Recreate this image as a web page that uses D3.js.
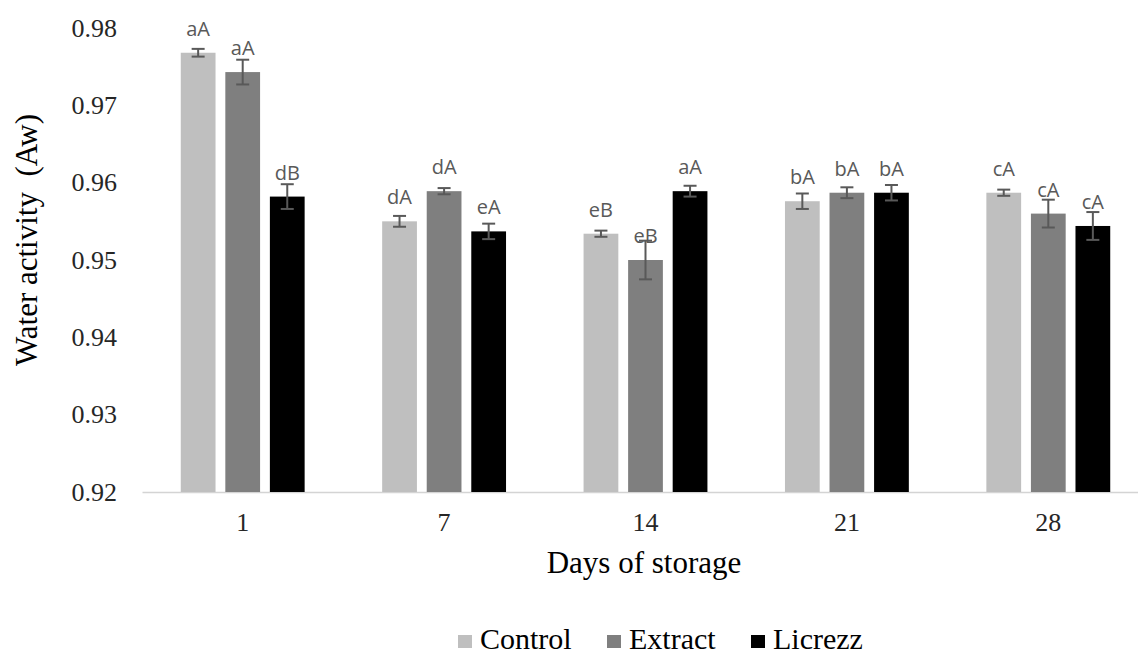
<!DOCTYPE html>
<html>
<head>
<meta charset="utf-8">
<script src="https://cdn.jsdelivr.net/npm/d3@7"></script>
<style>
  body { margin: 0; background: #ffffff; }
  svg { display: block; }
</style>
</head>
<body>
<div id="container"></div>
<script>
/* DATA */
const days = ["1", "7", "14", "21", "28"];
const series = ["Control", "Extract", "Licrezz"];
const yTicks = [0.92, 0.93, 0.94, 0.95, 0.96, 0.97, 0.98];

const control = [0.9768, 0.9550, 0.9534, 0.9576, 0.9587];
const controlErr = [0.0005, 0.0007, 0.0004, 0.0010, 0.0004];
const controlLabels = ["aA", "dA", "eB", "bA", "cA"];

const extract = [0.9743, 0.9589, 0.9500, 0.9587, 0.9560];
const extractErr = [0.0016, 0.0004, 0.0025, 0.0007, 0.0018];
const extractLabels = ["aA", "dA", "eB", "bA", "cA"];

const licrezz = [0.9582, 0.9537, 0.9589, 0.9587, 0.9544];
const licrezzErr = [0.0016, 0.0010, 0.0007, 0.0010, 0.0018];
const licrezzLabels = ["dB", "eA", "aA", "bA", "cA"];

/* CONSTANTS */
const width = 1138;
const height = 655;
const plot = { left: 142, right: 1149, top: 28, bottom: 492 };
const colors = ["#bfbfbf", "#7f7f7f", "#000000"];
const serif = "'Liberation Serif', 'Times New Roman', serif";
const sans = "'Open Sans', 'Noto Sans', sans-serif";

// one row per bar
const rows = [];
const values = [control, extract, licrezz];
const errs = [controlErr, extractErr, licrezzErr];
const labels = [controlLabels, extractLabels, licrezzLabels];
days.forEach((d, i) => {
  series.forEach((s, j) => {
    rows.push({ day: d, series: s, value: values[j][i], err: errs[j][i], label: labels[j][i] });
  });
});

const svg = d3.select("#container")
  .append("svg")
  .attr("width", width)
  .attr("height", height)
  .style("background-color", "#ffffff");

/* SCALES */
const x0 = d3.scaleBand()
  .domain(days)
  .range([plot.left, plot.right])
  .padding(0);

const x1 = d3.scaleBand()
  .domain(series)
  .range([0, x0.bandwidth()])
  .paddingInner(0.22)
  .paddingOuter(0.87);

const y = d3.scaleLinear()
  .domain([0.92, 0.98])
  .range([plot.bottom, plot.top]);

const color = d3.scaleOrdinal()
  .domain(series)
  .range(colors);

/* Y AXIS (labels only) */
const yAxis = svg.append("g")
  .attr("class", "y-axis")
  .attr("transform", `translate(117,0)`)
  .call(d3.axisLeft(y).tickValues(yTicks).tickFormat(d3.format(".2f")).tickSize(0).tickPadding(0));
yAxis.select(".domain").remove();
yAxis.selectAll("text")
  .style("font-family", serif)
  .style("font-size", "26px")
  .attr("fill", "#262626");

/* X AXIS */
const xAxis = svg.append("g")
  .attr("class", "x-axis")
  .attr("transform", `translate(0,${plot.bottom})`)
  .call(d3.axisBottom(x0).tickSize(0).tickPadding(21));
xAxis.select(".domain")
  .attr("stroke", "#d4d4d4")
  .attr("stroke-width", 1.5);
xAxis.selectAll("text")
  .style("font-family", serif)
  .style("font-size", "26px")
  .attr("fill", "#262626");

/* BARS */
const bars = svg.append("g");
bars.selectAll(".bar")
  .data(rows)
  .join("rect")
  .attr("class", "bar")
  .attr("x", d => x0(d.day) + x1(d.series))
  .attr("y", d => y(d.value))
  .attr("width", x1.bandwidth())
  .attr("height", d => y(0.92) - y(d.value))
  .attr("fill", d => color(d.series));

/* ERROR BARS */
const capW = 6.5;
const eb = svg.append("g")
  .attr("stroke", "#595959")
  .attr("stroke-width", 2);
rows.forEach(d => {
  const cx = x0(d.day) + x1(d.series) + x1.bandwidth() / 2;
  eb.append("line")
    .attr("x1", cx).attr("x2", cx)
    .attr("y1", y(d.value + d.err)).attr("y2", y(d.value - d.err));
  eb.append("line")
    .attr("x1", cx - capW).attr("x2", cx + capW)
    .attr("y1", y(d.value + d.err)).attr("y2", y(d.value + d.err));
  eb.append("line")
    .attr("x1", cx - capW).attr("x2", cx + capW)
    .attr("y1", y(d.value - d.err)).attr("y2", y(d.value - d.err));
});

/* DATA LABELS */
svg.append("g").selectAll(".lbl")
  .data(rows)
  .join("text")
  .attr("class", "lbl")
  .attr("x", d => x0(d.day) + x1(d.series) + x1.bandwidth() / 2)
  .attr("y", d => y(d.value) - 17)
  .attr("text-anchor", "middle")
  .style("font-family", sans)
  .style("font-size", "20px")
  .attr("fill", "#595959")
  .text(d => d.label);

/* AXIS TITLES */
svg.append("text")
  .attr("transform", "translate(37,240) rotate(-90)")
  .attr("text-anchor", "middle")
  .style("font-family", serif)
  .style("font-size", "31px")
  .style("white-space", "pre")
  .attr("fill", "#000000")
  .text("Water activity  (Aw)");

svg.append("text")
  .attr("x", 644)
  .attr("y", 573)
  .attr("text-anchor", "middle")
  .style("font-family", serif)
  .style("font-size", "31px")
  .attr("fill", "#000000")
  .text("Days of storage");

/* LEGEND */
const legendX = [458, 607, 751];
const legend = svg.append("g");
series.forEach((s, i) => {
  legend.append("rect")
    .attr("x", legendX[i])
    .attr("y", 635)
    .attr("width", 14)
    .attr("height", 13)
    .attr("fill", color(s));
  legend.append("text")
    .attr("x", legendX[i] + 22)
    .attr("y", 649)
    .style("font-family", serif)
    .style("font-size", "30px")
    .attr("fill", "#000000")
    .text(s);
});
</script>
</body>
</html>
